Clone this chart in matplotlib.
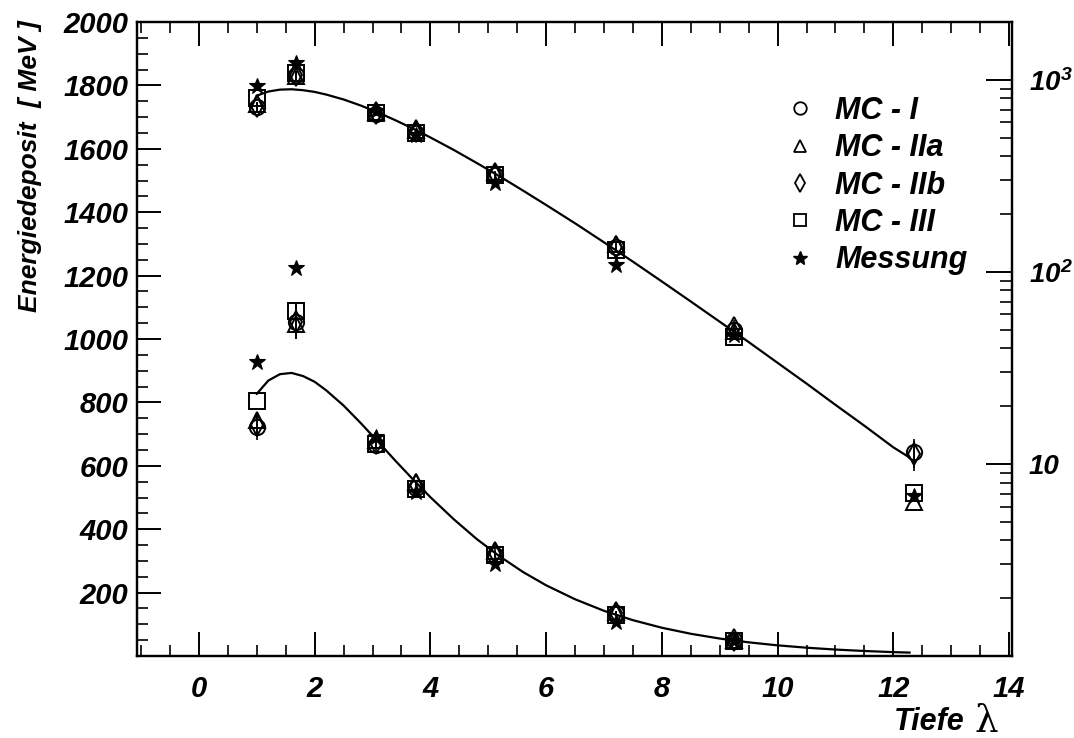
import matplotlib
matplotlib.use("Agg")
import matplotlib.pyplot as plt
from matplotlib.lines import Line2D
from matplotlib.ticker import MultipleLocator, FixedLocator, LogLocator, FuncFormatter, NullFormatter

# ---------------- data ----------------
depth = [1.0, 1.68, 3.06, 3.75, 5.11, 7.2, 9.25, 12.35]
mc_1 = [722, 1055, 665, 530, 320, 135, 50, 11.5]
mc_2a = [745, 1048, 682, 550, 330, 140, 49, 6.3]
mc_2b = [730, 1055, 672, 540, 325, 135, 51, 11.2]
mc_3 = [803, 1088, 670, 528, 318, 130, 46, 7.1]
messung = [928, 1225, 692, 518, 290, 108, 47, 6.8]
err_mc_1 = [40, 55, 20, 15, 12, 8, 5, 2]
err_mc_2b = [40, 55, 20, 15, 12, 8, 5, 2]

fit_x = [1.0, 1.2, 1.4, 1.6, 1.8, 2.0, 2.2, 2.5, 2.8, 3.1, 3.4, 3.7, 4.0, 4.4, 4.8,
         5.2, 5.6, 6.0, 6.5, 7.0, 7.5, 8.0, 8.5, 9.0, 9.5, 10.0, 10.5, 11.0, 11.5,
         12.0, 12.28]
fit_y = [827, 869, 889, 893, 883, 865, 838, 790, 734, 675, 615, 557, 501, 432, 369,
         314, 265, 223, 179, 142.5, 113, 89.1, 70.1, 55.0, 43.1, 33.6, 26.2, 20.3, 15.8,
         12.2, 10.8]

legend_labels = ["MC - I", "MC - IIa", "MC - IIb", "MC - III", "Messung"]
x_ticks = [0, 2, 4, 6, 8, 10, 12, 14]
y_ticks = [200, 400, 600, 800, 1000, 1200, 1400, 1600, 1800, 2000]
log_ticks = [10, 100, 1000]
log_labels = ["10", "$10^{2}$", "$10^{3}$"]

# ---------------- style ----------------
plt.rcParams["font.family"] = ["Liberation Sans", "DejaVu Sans"]
plt.rcParams["font.weight"] = "bold"
plt.rcParams["font.style"] = "italic"
plt.rcParams["mathtext.fontset"] = "custom"
plt.rcParams["mathtext.rm"] = "Liberation Sans:bold:italic"
plt.rcParams["mathtext.it"] = "Liberation Sans:bold:italic"
plt.rcParams["mathtext.bf"] = "Liberation Sans:bold:italic"

FS = 21
W, H = 1074, 738
fig = plt.figure(figsize=(W / 100, H / 100), dpi=100)
L, R, T, B = 137, 1012, 22, 656
ax = fig.add_axes([L / W, 1 - B / H, (R - L) / W, (B - T) / H])
ax2 = ax.twinx()

ax.set_xlim(-1.07, 14.05)
ax.set_ylim(0, 2000)
ax2.set_yscale("log")
ax2.set_ylim(1, 2000)

series = [
    (mc_1, "o", 11, err_mc_1),
    (mc_2a, "^", 11, None),
    (mc_2b, "d", 11, err_mc_2b),
    (mc_3, "s", 11, None),
]

# linear view omits the last depth (its values lie on the axis floor)
for a, n in ((ax, len(depth) - 1), (ax2, len(depth))):
    a.plot(fit_x, fit_y, color="black", lw=1.6, zorder=2)
    for vals, mk, ms, err in series:
        if err is not None:
            a.errorbar(depth[:n], vals[:n], yerr=err[:n], fmt="none", ecolor="black",
                       elinewidth=1.2, capsize=0, zorder=3)
        a.plot(depth[:n], vals[:n], linestyle="none", marker=mk, ms=ms, mfc="none",
               mec="black", mew=1.4, zorder=4)
    a.plot(depth[:n], messung[:n], linestyle="none", marker="*", ms=12, mfc="black",
           mec="black", mew=0.8, zorder=5)

# ---------------- axes / ticks ----------------
for a in (ax, ax2):
    for s in a.spines.values():
        s.set_linewidth(1.6)

ax.xaxis.set_major_locator(FixedLocator(x_ticks))
ax.xaxis.set_minor_locator(MultipleLocator(0.5))
ax.yaxis.set_major_locator(FixedLocator(y_ticks))
ax.yaxis.set_minor_locator(MultipleLocator(50))
ax.tick_params(axis="x", which="both", direction="in", top=True, bottom=True,
               labelsize=FS, pad=14)
ax.tick_params(axis="x", which="major", length=17, width=1.4)
ax.tick_params(axis="x", which="minor", length=8, width=1.2)
ax.tick_params(axis="y", which="both", direction="in", left=True, right=False,
               labelsize=FS, pad=6)
ax.tick_params(axis="y", which="major", length=17, width=1.4)
ax.tick_params(axis="y", which="minor", length=8, width=1.2)

ax2.yaxis.set_major_locator(FixedLocator(log_ticks))
ax2.yaxis.set_major_formatter(FuncFormatter(lambda v, p: dict(zip(log_ticks, log_labels)).get(int(round(v)), "")))
ax2.yaxis.set_minor_locator(LogLocator(base=10, subs=(2, 3, 4, 5, 6, 7, 8, 9), numticks=20))
ax2.yaxis.set_minor_formatter(NullFormatter())
ax2.tick_params(axis="y", which="both", direction="in", right=True, left=False,
                labelsize=20, pad=12)
ax2.tick_params(axis="y", which="major", length=19, width=1.4)
ax2.tick_params(axis="y", which="minor", length=9, width=1.2)

# ---------------- labels ----------------
fig.text(30 / W, 1 - 20 / H, "Energiedeposit  [ MeV ]", rotation=90,
         ha="center", va="top", fontsize=19)
fig.text(965 / W, 1 - 722 / H, "Tiefe", ha="right", va="center", fontsize=22)
fig.text(974 / W, 1 - 722 / H, "λ", ha="left", va="center", fontsize=27,
         fontstyle="normal", fontweight="normal", family=["DejaVu Serif", "DejaVu Sans"])

# ---------------- legend ----------------
handles = [
    Line2D([], [], ls="none", marker="o", ms=9, mfc="none", mec="black", mew=1.3),
    Line2D([], [], ls="none", marker="^", ms=9, mfc="none", mec="black", mew=1.3),
    Line2D([], [], ls="none", marker="d", ms=9, mfc="none", mec="black", mew=1.3),
    Line2D([], [], ls="none", marker="s", ms=9, mfc="none", mec="black", mew=1.3),
    Line2D([], [], ls="none", marker="*", ms=10, mfc="black", mec="black"),
]
leg = ax2.legend(handles, legend_labels, loc="upper left",
                 bbox_to_anchor=(785 / W, 1 - 96 / H), bbox_transform=fig.transFigure,
                 frameon=False, prop={"size": 22}, handlelength=1.0, handletextpad=0.65,
                 labelspacing=0.24, borderpad=0, borderaxespad=0)

fig.savefig("out.png", dpi=100)
